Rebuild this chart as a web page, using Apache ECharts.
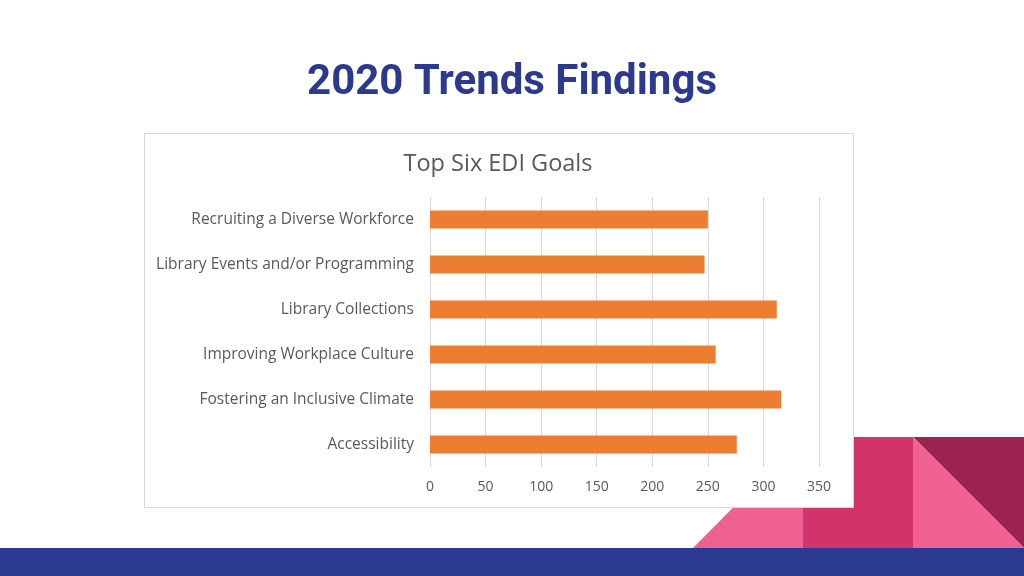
<!DOCTYPE html>
<html>
<head>
<meta charset="utf-8">
<script src="https://cdn.jsdelivr.net/npm/echarts@6/dist/echarts.min.js"></script>
<style>
html,body{margin:0;padding:0;background:#fff;}
#chart{width:1024px;height:576px;}
</style>
</head>
<body>
<div id="chart"></div>
<script>
const slideTitle = '2020 Trends Findings';
const chartTitle = 'Top Six EDI Goals';
const categories = [
  'Recruiting a Diverse Workforce',
  'Library Events and/or Programming',
  'Library Collections',
  'Improving Workplace Culture',
  'Fostering an Inclusive Climate',
  'Accessibility'
];
const values = [250, 247, 312, 257, 316, 276];
const xTicks = [0, 50, 100, 150, 200, 250, 300, 350];

const chart = echarts.init(document.getElementById('chart'), null, {renderer: 'canvas'});
chart.setOption({
  backgroundColor: '#ffffff',
  animation: false,
  title: [
    {
      text: slideTitle, left: 'center', top: 57,
      textStyle: {fontFamily: 'Roboto', fontWeight: 'bold', fontSize: 42, color: '#2B3990'}
    },
    {
      text: chartTitle, left: 493, textAlign: 'center', top: 147,
      textStyle: {fontFamily: 'Open Sans', fontWeight: 'normal', fontSize: 23.5, color: '#595959'}
    }
  ],
  graphic: [
    {type: 'polygon', z: -10, shape: {points: [[693,548],[803,437],[803,548]]}, style: {fill: '#EE6190'}},
    {type: 'rect', z: -10, shape: {x: 803, y: 437, width: 110, height: 111}, style: {fill: '#D2336A'}},
    {type: 'polygon', z: -10, shape: {points: [[913,437],[1024,437],[1024,548]]}, style: {fill: '#9C2250'}},
    {type: 'polygon', z: -10, shape: {points: [[913,437],[913,548],[1024,548]]}, style: {fill: '#EE6190'}},
    {type: 'rect', z: -10, shape: {x: 0, y: 548, width: 1024, height: 28}, style: {fill: '#2B3990'}},
    {type: 'rect', z: -5, shape: {x: 144.5, y: 133.5, width: 709, height: 374}, style: {fill: '#ffffff', stroke: '#D9D9D9', lineWidth: 1}}
  ],
  grid: {left: 430, top: 197, width: 389, height: 270, containLabel: false},
  xAxis: {
    type: 'value', min: 0, max: 350, interval: 50,
    axisLine: {show: false}, axisTick: {show: false},
    axisLabel: {color: '#595959', fontFamily: 'Open Sans', fontSize: 14, margin: 13,
      formatter: v => xTicks.includes(v) ? String(v) : ''},
    splitLine: {show: true, lineStyle: {color: '#D9D9D9', width: 1}}
  },
  yAxis: {
    type: 'category', data: categories, inverse: true,
    axisLine: {show: false}, axisTick: {show: false},
    axisLabel: {color: '#595959', fontFamily: 'Open Sans', fontSize: 15.5, margin: 16},
    splitLine: {show: false}
  },
  series: [{
    type: 'bar', data: values, barWidth: 18,
    itemStyle: {color: '#ED7D31'}
  }]
});
</script>
</body>
</html>
